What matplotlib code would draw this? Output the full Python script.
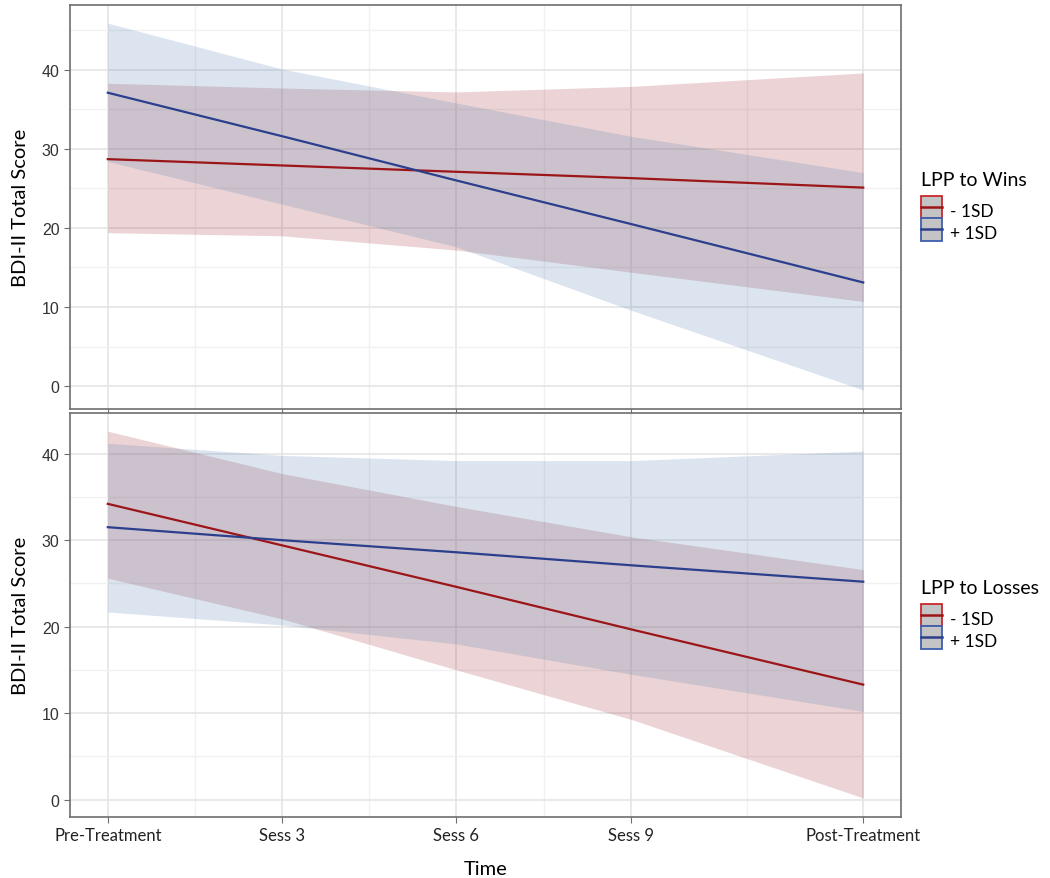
import matplotlib.pyplot as plt
from matplotlib.patches import Patch, Rectangle
from matplotlib.lines import Line2D
from matplotlib.legend_handler import HandlerPatch
from matplotlib.ticker import MultipleLocator

# time axis (session number), labels as on the chart
time = [0, 3, 6, 9, 13]
time_labels = ["Pre-Treatment", "Sess 3", "Sess 6", "Sess 9", "Post-Treatment"]

# LPP to Wins
wins_lo_fit = [28.7, 27.9, 27.1, 26.3, 25.1]
wins_lo_upper = [38.3, 37.7, 37.2, 37.9, 39.6]
wins_lo_lower = [19.4, 19.0, 17.2, 14.4, 10.7]
wins_hi_fit = [37.1, 31.6, 26.0, 20.5, 13.1]
wins_hi_upper = [45.9, 40.1, 35.8, 31.6, 27.0]
wins_hi_lower = [28.4, 23.0, 17.6, 9.6, -0.5]

# LPP to Losses
loss_lo_fit = [34.2, 29.4, 24.6, 19.7, 13.3]
loss_lo_upper = [42.6, 37.7, 33.9, 30.4, 26.6]
loss_lo_lower = [25.6, 20.9, 15.0, 9.3, 0.2]
loss_hi_fit = [31.5, 30.0, 28.6, 27.1, 25.2]
loss_hi_upper = [41.2, 39.8, 39.2, 39.2, 40.3]
loss_hi_lower = [21.7, 20.2, 18.0, 14.5, 10.2]

RED = "#9c1518"
BLUE = "#2b3f8c"
RED_FILL = "#a02832"
BLUE_FILL = "#507daf"
LABEL_FONT = ["Lato", "DejaVu Sans"]


def centered_box(legend, orig_handle, xdescent, ydescent, width, height, fontsize):
    # box centred on the key line (ggplot-style key)
    return Rectangle((-xdescent, -ydescent / 2), width, height)


def draw_panel(ax, lo, hi, ylim, title):
    lo_fit, lo_up, lo_low = lo
    hi_fit, hi_up, hi_low = hi

    # confidence ribbons then fitted lines
    ax.fill_between(time, lo_low, lo_up, color=RED_FILL, alpha=0.2, lw=0)
    ax.fill_between(time, hi_low, hi_up, color=BLUE_FILL, alpha=0.2, lw=0)
    ax.plot(time, lo_fit, color=RED, lw=1.6)
    ax.plot(time, hi_fit, color=BLUE, lw=1.6)

    ax.set_xlim(-0.65, 13.65)
    ax.set_ylim(*ylim)
    ax.set_xticks(time)
    ax.set_xticks([1.5, 4.5, 7.5, 11], minor=True)
    ax.yaxis.set_major_locator(MultipleLocator(10))
    ax.yaxis.set_minor_locator(MultipleLocator(5))
    ax.grid(True, which="major", color="#e3e3e3", lw=1.1)
    ax.grid(True, which="minor", color="#f1f1f1", lw=1.0)
    ax.set_axisbelow(True)
    ax.tick_params(which="major", length=4, color="#6e6e6e", labelsize=11.5, labelcolor="#333333")
    ax.tick_params(which="minor", length=0)
    for lab in ax.get_yticklabels():
        lab.set_family("Liberation Sans")
    for s in ax.spines.values():
        s.set_color("#6e6e6e")
        s.set_linewidth(1.2)
    ax.set_ylabel("BDI-II Total Score", family=LABEL_FONT, fontsize=14.5, labelpad=9)

    handles = [
        (Patch(facecolor="#c4c4c4", edgecolor="#c8272b", lw=1.3), Line2D([], [], color=RED, lw=1.8)),
        (Patch(facecolor="#c4c4c4", edgecolor="#3d5fae", lw=1.3), Line2D([], [], color=BLUE, lw=1.8)),
    ]
    leg = ax.legend(handles, ["- 1SD", "+ 1SD"], title=title, loc="center left",
                    bbox_to_anchor=(1.005, 0.5), frameon=False,
                    prop={"family": LABEL_FONT, "size": 12.5},
                    handler_map={Patch: HandlerPatch(patch_func=centered_box)},
                    handlelength=1.25, handleheight=1.6, labelspacing=0.0,
                    handletextpad=0.45, borderaxespad=0.5)
    leg.get_title().set_family(LABEL_FONT)
    leg.get_title().set_fontsize(14)
    leg._legend_box.align = "left"
    leg._legend_box.sep = 8


fig = plt.figure(figsize=(10.5, 8.79), dpi=100)
ax_top = fig.add_axes([0.0667, 0.5336, 0.7914, 0.4596])
ax_bot = fig.add_axes([0.0667, 0.0694, 0.7914, 0.4596])

draw_panel(ax_top, (wins_lo_fit, wins_lo_upper, wins_lo_lower),
           (wins_hi_fit, wins_hi_upper, wins_hi_lower), (-2.9, 48.2), "LPP to Wins")
draw_panel(ax_bot, (loss_lo_fit, loss_lo_upper, loss_lo_lower),
           (loss_hi_fit, loss_hi_upper, loss_hi_lower), (-2.0, 44.7), "LPP to Losses")

ax_top.set_xticklabels([])
ax_bot.set_xticklabels(time_labels, family=LABEL_FONT, fontsize=12, color="#222222")
ax_bot.set_xlabel("Time", family=LABEL_FONT, fontsize=14.5, labelpad=12)

fig.savefig("out.png", dpi=100)
